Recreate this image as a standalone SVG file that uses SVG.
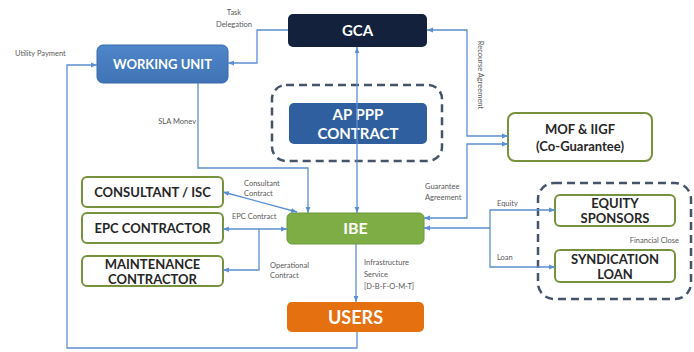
<svg xmlns="http://www.w3.org/2000/svg" width="694" height="352" viewBox="0 0 694 352">
<defs>
<marker id="ah" viewBox="0 0 10 10" refX="10" refY="5" markerWidth="6" markerHeight="6" markerUnits="userSpaceOnUse" orient="auto-start-reverse">
<path d="M0,1 L10,5 L0,9 z" fill="#5b8fd0"/>
</marker>
<linearGradient id="gWU" x1="0" y1="0" x2="0" y2="1"><stop offset="0" stop-color="#4f86c9"/><stop offset="1" stop-color="#3f73b6"/></linearGradient>
</defs>
<style>
.box{stroke:#76923c;stroke-width:2;fill:#ffffff}
.bt{font-family:Lato,"Open Sans",sans-serif;font-weight:bold;text-anchor:middle;fill:#262626;font-size:13px}
.wt{font-family:Lato,"Open Sans",sans-serif;font-weight:bold;text-anchor:middle;fill:#ffffff}
.lb{font-family:Lato,"Open Sans",sans-serif;font-size:7.5px;fill:#595959}
.c{fill:none;stroke:#5b8fd0;stroke-width:1.3}
.dash{fill:none;stroke:#44546a;stroke-width:2.5;stroke-dasharray:8 5}
</style>
<rect width="694" height="352" fill="#ffffff"/>

<g id="dashed-groups">
<rect class="dash" x="272" y="85" width="170" height="76" rx="14"/>
<rect class="dash" x="538" y="183" width="153" height="116" rx="16"/>
</g>

<g id="gca"><rect x="288" y="14" width="139" height="33" rx="5" fill="#13213c"/><text class="wt" x="357.5" y="36" font-size="15">GCA</text></g>
<g id="working-unit"><rect x="97" y="45" width="131" height="38" rx="6" fill="url(#gWU)" stroke="#3a68a8" stroke-width="1"/><text class="wt" x="162.5" y="69" font-size="13">WORKING UNIT</text></g>
<g id="ap-ppp"><rect x="289" y="103" width="138" height="41" rx="5" fill="#2f5f9f"/><text class="wt" x="358" y="120" font-size="15">AP PPP</text><text class="wt" x="358" y="139" font-size="15">CONTRACT</text></g>
<g id="mof"><rect class="box" x="508" y="113" width="144" height="48" rx="7"/><text class="bt" x="580" y="134">MOF &amp; IIGF</text><text class="bt" x="580" y="151">(Co-Guarantee)</text></g>
<g id="consultant"><rect class="box" x="82" y="177" width="141" height="30" rx="5"/><text class="bt" x="152.5" y="197">CONSULTANT / ISC</text></g>
<g id="epc"><rect class="box" x="82" y="213" width="141" height="30" rx="5"/><text class="bt" x="152.5" y="233">EPC CONTRACTOR</text></g>
<g id="maintenance"><rect class="box" x="82" y="256" width="141" height="30" rx="5"/><text class="bt" x="152.5" y="269">MAINTENANCE</text><text class="bt" x="152.5" y="284">CONTRACTOR</text></g>
<g id="ibe"><rect x="287" y="213" width="137" height="31" rx="5" fill="#7fad45" stroke="#6e9a3a" stroke-width="1"/><text class="wt" x="355.5" y="234" font-size="16">IBE</text></g>
<g id="users"><rect x="287" y="302" width="137" height="30" rx="5" fill="#e5700f"/><text class="wt" x="355.5" y="324" font-size="18">USERS</text></g>
<g id="equity"><rect class="box" x="555" y="195" width="120" height="31" rx="5"/><text class="bt" x="615" y="208">EQUITY</text><text class="bt" x="615" y="223">SPONSORS</text></g>
<g id="syndication"><rect class="box" x="555" y="250" width="120" height="32" rx="5"/><text class="bt" x="615" y="264">SYNDICATION</text><text class="bt" x="615" y="279">LOAN</text></g>

<g id="connectors">
<path class="c" d="M288,30 H257 V63 H228" marker-end="url(#ah)"/>
<path class="c" d="M427,30 H467 V136 H508" marker-start="url(#ah)" marker-end="url(#ah)"/>
<path class="c" d="M424,218 H467 V144 H508" marker-start="url(#ah)" marker-end="url(#ah)"/>
<path class="c" d="M357,47 V213" marker-start="url(#ah)" marker-end="url(#ah)"/>
<path class="c" d="M198,83 V168 H308 V213" marker-end="url(#ah)"/>
<path class="c" d="M297,212 L223,192" marker-start="url(#ah)" marker-end="url(#ah)"/>
<path class="c" d="M223,229 H287" marker-start="url(#ah)" marker-end="url(#ah)"/>
<path class="c" d="M259,229 V270 H223" marker-end="url(#ah)"/>
<path class="c" d="M356,244 V302" marker-end="url(#ah)"/>
<path class="c" d="M357,332 V348 H67 V65 H97" marker-end="url(#ah)"/>
<path class="c" d="M490,228 H424" marker-end="url(#ah)"/>
<path class="c" d="M555,210 H490 V267 H555" marker-start="url(#ah)" marker-end="url(#ah)"/>
</g>

<g id="labels">
<text class="lb" x="234" y="15" text-anchor="middle">Task</text>
<text class="lb" x="234" y="27" text-anchor="middle">Delegation</text>
<text class="lb" x="15" y="56">Utility Payment</text>
<text class="lb" x="196" y="124" text-anchor="end">SLA Monev</text>
<text class="lb" x="0" y="0" text-anchor="middle" transform="translate(478,75) rotate(90)">Recourse Agreement</text>
<text class="lb" x="425" y="189">Guarantee</text>
<text class="lb" x="425" y="200">Agreement</text>
<text class="lb" x="244" y="186">Consultant</text>
<text class="lb" x="244" y="196">Contract</text>
<text class="lb" x="232" y="219">EPC Contract</text>
<text class="lb" x="270" y="268">Operational</text>
<text class="lb" x="270" y="278">Contract</text>
<text class="lb" x="364" y="265">Infrastructure</text>
<text class="lb" x="364" y="277">Service</text>
<text class="lb" x="364" y="289">[D-B-F-O-M-T]</text>
<text class="lb" x="497" y="206">Equity</text>
<text class="lb" x="497" y="260">Loan</text>
<text class="lb" x="679" y="243" text-anchor="end">Financial Close</text>
</g>
</svg>
